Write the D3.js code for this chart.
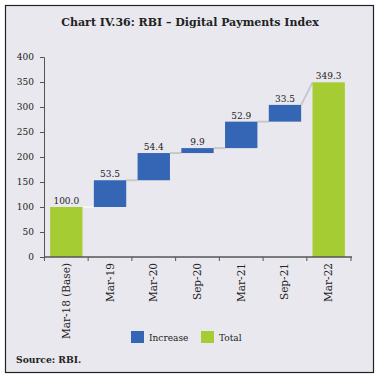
<!DOCTYPE html>
<html><head><meta charset="utf-8">
<script src="https://cdn.jsdelivr.net/npm/d3@7"></script>
<style>
body{margin:0;background:#fff;}
text{font-family:"DejaVu Serif",serif;}
</style></head>
<body>
<svg id="c" width="379" height="377"></svg>
<script>
const categories = ["Mar-18 (Base)","Mar-19","Mar-20","Sep-20","Mar-21","Sep-21","Mar-22"];
const values = [100.0, 53.5, 54.4, 9.9, 52.9, 33.5, 349.3];
const types = ["Total","Increase","Increase","Increase","Increase","Increase","Total"];
const yTicks = [0,50,100,150,200,250,300,350,400];
const legendItems = ["Increase","Total"];
const colors = {Increase:"#3565b5", Total:"#a5cc33"};

const svg = d3.select("#c");
svg.append("rect").attr("x",5.5).attr("y",5.5).attr("width",368).attr("height",367)
  .attr("fill","#e9e8ee").attr("stroke","#222").attr("stroke-width",1.2);
svg.append("text").attr("x",190).attr("y",26).attr("text-anchor","middle")
  .attr("font-size",11).attr("font-weight","bold").attr("fill","#222")
  .text("Chart IV.36: RBI – Digital Payments Index");

const x = d3.scaleBand().domain(categories).range([44,351]).paddingInner(0.26).paddingOuter(0.14);
const y = d3.scaleLinear().domain([0,400]).range([257,57]);

// compute waterfall segments
let run = 0;
const segs = categories.map((c,i)=>{
  let y0,y1;
  if(types[i]==="Total"){ y0=0; y1=values[i]; run=values[i]; }
  else { y0=run; y1=run+values[i]; run=y1; }
  return {c, v:values[i], t:types[i], y0, y1};
});

// connectors
const g = svg.append("g");
for(let i=0;i<segs.length-1;i++){
  const a=segs[i], b=segs[i+1];
  const yb = b.t==="Total" ? b.y1 : b.y0;
  g.append("line").attr("x1",x(a.c)+x.bandwidth()).attr("y1",y(a.y1))
    .attr("x2",x(b.c)).attr("y2",y(yb))
    .attr("stroke", i===0?"#f4f4f4":"#c8c8cc").attr("stroke-width",2);
}

g.selectAll("rect.bar").data(segs).join("rect").attr("class","bar")
  .attr("x",d=>x(d.c)).attr("width",x.bandwidth())
  .attr("y",d=>y(d.y1)).attr("height",d=>y(d.y0)-y(d.y1))
  .attr("fill",d=>colors[d.t]);

g.selectAll("text.lab").data(segs).join("text").attr("class","lab")
  .attr("x",d=>x(d.c)+x.bandwidth()/2).attr("y",d=>y(d.y1)-3)
  .attr("text-anchor","middle").attr("font-size",9).attr("fill","#222")
  .text(d=>d.v.toFixed(1));

// y axis
const ya = svg.append("g").attr("transform","translate(44,0)")
  .call(d3.axisLeft(y).tickValues(yTicks).tickSize(4).tickPadding(6));
ya.selectAll("text").attr("font-size",9).attr("fill","#222").attr("font-family","DejaVu Serif");
ya.selectAll("line,path").attr("stroke","#555");

// x axis with ticks at band boundaries
const xa = svg.append("g").attr("transform","translate(0,257)");
xa.append("line").attr("x1",44).attr("x2",352).attr("stroke","#555").attr("stroke-width",1.5);
const bounds = categories.map(c=>x(c)-x.step()*x.paddingInner()/2).concat([351]);
xa.selectAll("line.t").data(bounds).join("line").attr("class","t")
  .attr("x1",d=>d).attr("x2",d=>d).attr("y1",0).attr("y2",4).attr("stroke","#555");
xa.selectAll("text").data(categories).join("text")
  .attr("transform",d=>`translate(${x(d)+x.bandwidth()/2+3.5},6) rotate(-90)`)
  .attr("text-anchor","end").attr("font-size",10.5).attr("fill","#222").text(d=>d);

// legend
const lx = [131,201];
legendItems.forEach((k,i)=>{
  svg.append("rect").attr("x",lx[i]).attr("y",331).attr("width",13).attr("height",12).attr("fill",colors[k]);
  svg.append("text").attr("x",lx[i]+18).attr("y",341).attr("font-size",9).attr("fill","#222").text(k);
});

svg.append("text").attr("x",16).attr("y",363).attr("font-size",9.2).attr("font-weight","bold").attr("fill","#222").text("Source: RBI.");
</script>
</body></html>
